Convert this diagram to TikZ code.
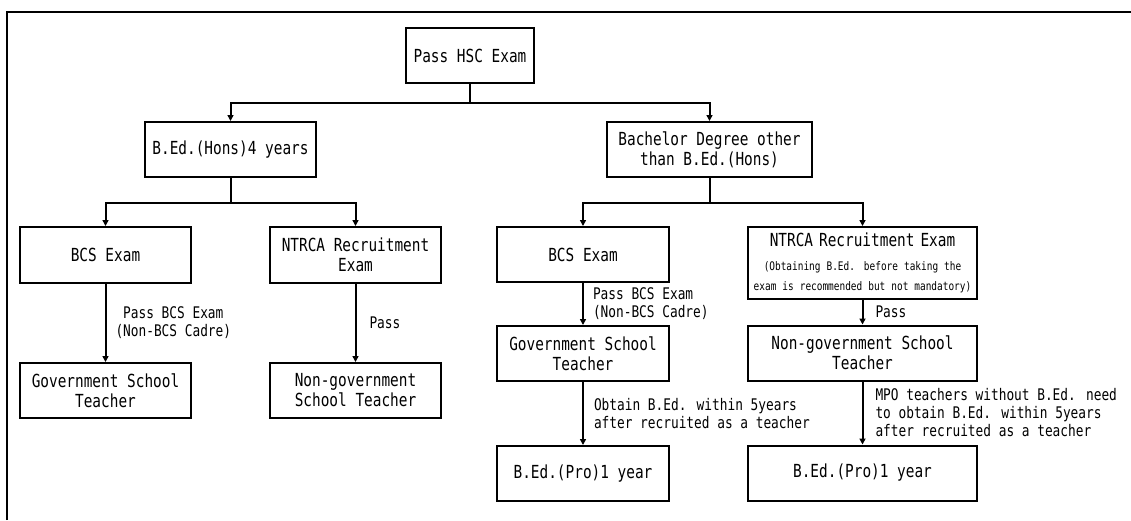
\documentclass[tikz,border=0pt]{standalone}
\usepackage{fontspec}
\setmainfont{DejaVu Sans Mono}[FakeStretch=0.8]
\usetikzlibrary{arrows.meta}
\newcommand\boxsize{\fontsize{18}{20}\selectfont}
\newcommand\lblsize{\fontsize{16}{18}\selectfont}
\newcommand\notesize{\fontsize{11.8}{13}\selectfont}

\begin{document}
\begin{tikzpicture}[x=1pt,y=-1pt,
  stagebox/.style={draw=black, line width=2pt, minimum height=55pt,
    minimum width=171pt, inner sep=2pt, align=center, font=\boxsize},
  arr/.style={line width=2pt, -{Triangle[length=6pt,width=6pt]}},
  lbl/.style={inner sep=0pt, anchor=west, font=\lblsize, align=left},
  frameline/.style={line width=2.6pt}]
\useasboundingbox (0,0) rectangle (1131,520);

% outer frame (left and top edges)
\draw[frameline] (7,520) -- (7,12) -- (1131,12);

% stages
\node[stagebox, minimum width=128pt] (hsc) at (470,55.5) {Pass HSC Exam};
\node[stagebox] (bed) at (230.5,149.5) {B.Ed.(Hons)4 years};
\node[stagebox, minimum width=205pt] (bach) at (709.5,149.5) {Bachelor Degree other\\than B.Ed.(Hons)};

\node[stagebox, minimum height=56pt] (bcs1) at (105.5,255) {BCS Exam};
\node[stagebox, minimum height=56pt] (ntr1) at (355.5,255) {NTRCA Recruitment\\Exam};
\node[stagebox, minimum width=172pt] (bcs2) at (583,254.5) {BCS Exam};
\node[stagebox, minimum width=229pt, minimum height=72pt, text width=225pt] (ntr2) at (862.5,263)
  {NTRCA Recruitment Exam\par\vspace{11pt}\notesize (Obtaining B.Ed. before taking the\\exam is recommended but not mandatory)};

\node[stagebox] (gov1) at (105.5,390.5) {Government School\\Teacher};
\node[stagebox] (ngov1) at (355.5,390.5) {Non-government\\School Teacher};
\node[stagebox, minimum width=172pt] (gov2) at (583,353.5) {Government School\\Teacher};
\node[stagebox, minimum width=229pt] (ngov2) at (862.5,353) {Non-government School\\Teacher};

\node[stagebox, minimum width=172pt] (pro2) at (583,473.5) {B.Ed.(Pro)1 year};
\node[stagebox, minimum width=229pt] (pro3) at (862.5,473) {B.Ed.(Pro)1 year};

% branching connectors
\draw[arr] (hsc.south) -- ++(0,19) -| (bed.north);
\draw[arr] (hsc.south) -- ++(0,19) -| (bach.north);
\draw[arr] (bed.south) -- ++(0,25) -| (bcs1.north);
\draw[arr] (bed.south) -- ++(0,25) -| (ntr1.north);
\draw[arr] (bach.south) -- ++(0,25) -| (bcs2.north);
\draw[arr] (bach.south) -- ++(0,25) -| (ntr2.north);

% labelled connectors
\draw[arr] (bcs1) -- node[lbl, align=center, xshift=9pt] {Pass BCS Exam\\(Non-BCS Cadre)} (gov1);
\draw[arr] (ntr1) -- node[lbl, xshift=13pt] {Pass} (ngov1);
\draw[arr] (bcs2) -- node[lbl, xshift=9pt] {Pass BCS Exam\\(Non-BCS Cadre)} (gov2);
\draw[arr] (gov2) -- node[lbl, xshift=10pt] {Obtain B.Ed. within 5years\\after recruited as a teacher} (pro2);
\draw[arr] (ntr2) -- node[lbl, xshift=12pt] {Pass} (ngov2);
\draw[arr] (ngov2) -- node[lbl, xshift=12pt] {MPO teachers without B.Ed. need\\to obtain B.Ed. within 5years\\after recruited as a teacher} (pro3);
\end{tikzpicture}
\end{document}
